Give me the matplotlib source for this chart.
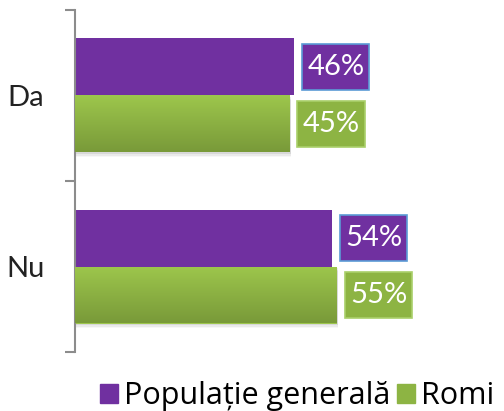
import numpy as np
import matplotlib.pyplot as plt
from matplotlib.patches import Patch
from matplotlib.path import Path
from matplotlib.colors import LinearSegmentedColormap

plt.rcParams['font.family'] = ['Lato', 'DejaVu Sans']

categories = ["Nu", "Da"]            # bottom to top
populatie = [54, 46]                 # Populație generală (%)
romi = [55, 45]                      # Romi (%)
series_names = ["Populație generală", "Romi"]

purple = "#7030A0"
green = "#8DB443"
green_top = "#9DC64C"
green_bot = "#799A39"


def label_box(x0, y0, width, height, mutation_size):
    # box with more room above/below than at the sides
    px, py = 0.17 * mutation_size, 0.34 * mutation_size
    x0, y0 = x0 - px, y0 - py
    x1, y1 = x0 + width + 2 * px, y0 + height + 2 * py
    return Path([(x0, y0), (x1, y0), (x1, y1), (x0, y1), (x0, y0)],
                closed=True)


fig = plt.figure(figsize=(5.04, 4.11), dpi=100)
ax = fig.add_axes([75 / 504, 59 / 411, 429 / 504, 342 / 411])

y = np.arange(len(categories))
h = 1 / 3

# soft shadow under the green bars
for yi, v in zip(y, romi):
    for k, a in enumerate([0.07, 0.05, 0.03]):
        ax.barh(yi - h / 2 - 0.01 - 0.008 * k, v, height=h, color="black",
                alpha=a, left=0.3, zorder=1, lw=0)

b1 = ax.barh(y + h / 2, populatie, height=h, color=purple, zorder=2)
b2 = ax.barh(y - h / 2, romi, height=h, color=green_top, zorder=2)

# vertical gradient on green bars
grad = np.linspace(0, 1, 64).reshape(-1, 1)
cmap = LinearSegmentedColormap.from_list("g", [green_bot, green_top])
for rect in b2:
    x0, y0 = rect.get_x(), rect.get_y()
    w, hh = rect.get_width(), rect.get_height()
    im = ax.imshow(grad, cmap=cmap, aspect="auto", origin="lower",
                   extent=(x0, x0 + w, y0, y0 + hh), zorder=3)
    im.set_clip_path(rect)

ax.set_xlim(0, 90.1)
ax.set_ylim(-0.5, 1.5)

# value labels in boxes
for yi, v in zip(y, populatie):
    ax.annotate(f"{v}%", xy=(v, yi + h / 2), xytext=(9.5, 0),
                textcoords="offset points", ha="left", va="center",
                color="white", fontsize=21, zorder=5,
                bbox=dict(boxstyle=label_box, fc=purple,
                          ec="#5B9BD5", lw=1.2))
for yi, v in zip(y, romi):
    ax.annotate(f"{v}%", xy=(v, yi - h / 2), xytext=(9.5, 0),
                textcoords="offset points", ha="left", va="center",
                color="white", fontsize=21, zorder=5,
                bbox=dict(boxstyle=label_box, fc=green,
                          ec="#A9CF6A", lw=1.2))

# axis styling
for s in ["top", "right", "bottom"]:
    ax.spines[s].set_visible(False)
ax.spines["left"].set_color("#8C8C8C")
ax.spines["left"].set_linewidth(1.5)
ax.set_xticks([])
ax.set_yticks([-0.5, 0.5, 1.5])
ax.set_yticklabels([])
ax.tick_params(axis="y", which="major", length=7, width=1.5, color="#8C8C8C")
ax.set_yticks(y, minor=True)
ax.set_yticklabels(categories, minor=True, fontsize=21, color="#222222")
ax.tick_params(axis="y", which="minor", length=0, pad=22)

handles = [Patch(color=purple), Patch(color=green)]
fig.legend(handles, series_names, loc="center", bbox_to_anchor=(0.59, 0.036),
           ncol=2, frameon=False, handlelength=0.6, handleheight=0.6,
           handletextpad=0.2, columnspacing=0.2,
           prop={"family": ["Open Sans", "DejaVu Sans"], "size": 22})

fig.savefig("out.png", dpi=100)
